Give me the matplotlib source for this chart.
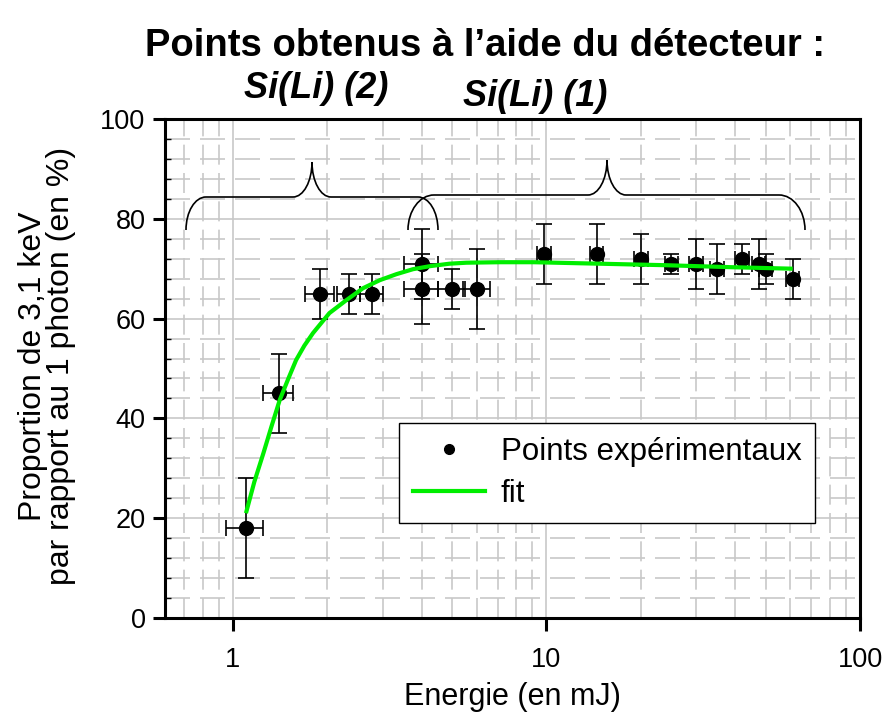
import matplotlib
matplotlib.use("Agg")
import matplotlib.pyplot as plt
from matplotlib.path import Path
from matplotlib.patches import PathPatch
from matplotlib.lines import Line2D
from matplotlib.ticker import FixedLocator, NullFormatter

plt.rcParams['font.family'] = ['Liberation Sans', 'DejaVu Sans']

# Measured points: energy (mJ), proportion (%), and their uncertainties
energy = [1.1, 1.4, 1.9, 2.35, 2.77, 4.0, 4.0, 5.0, 6.0, 9.8, 14.5,
          20, 25, 30, 35, 42, 47.5, 50, 61]
proportion = [18, 45, 65, 65, 65, 71, 66, 66, 66, 73, 73,
              72, 71, 71, 70, 72, 71, 70, 68]
proportion_err = [10, 8, 5, 4, 4, 7, 7, 4, 8, 6, 6,
                  5, 2, 5, 5, 3, 5, 3, 4]
energy_err = [0.15, 0.15, 0.2, 0.2, 0.23, 0.5, 0.5, 0.5, 0.6, 0.5, 0.7,
              1.0, 1.2, 1.5, 1.7, 2.1, 2.4, 2.5, 3.0]

# Fitted curve
fit_energy = [1.1, 1.17, 1.25, 1.33, 1.41, 1.5, 1.59, 1.69, 1.8, 2.03, 2.3,
              2.6, 2.94, 3.32, 3.75, 4.24, 4.9, 5.55, 7.1, 9.1, 14.8,
              24, 39, 61]
fit_proportion = [21.0, 27.3, 33.0, 38.6, 43.7, 47.9, 51.7, 54.6, 57.1,
                  61.1, 63.7, 66.1, 67.7, 68.9, 69.9, 70.5, 71.0, 71.2,
                  71.3, 71.3, 71.0, 70.7, 70.3, 70.0]

x_ticks = [1, 10, 100]
x_ticklabels = ["1", "10", "100"]
y_ticks = [0, 20, 40, 60, 80, 100]

title = "Points obtenus à l\u2019aide du détecteur :"
group_labels = ["Si(Li) (2)", "Si(Li) (1)"]
legend_labels = ["Points expérimentaux", "fit"]

W, H = 884, 726
fig = plt.figure(figsize=(W / 100, H / 100), dpi=100)
ax_l, ax_r, ax_t, ax_b = 165, 860, 119, 618
ax = fig.add_axes([ax_l / W, 1 - ax_b / H, (ax_r - ax_l) / W, (ax_b - ax_t) / H])

ax.set_xscale('log')
ax.set_xlim(0.607, 100)
ax.set_ylim(0, 100)

fit_col = '#00ee00'
grid_col = '#c8c8c8'
# major grid: solid
for xv in [1, 10]:
    ax.axvline(xv, color=grid_col, lw=1.2, zorder=0)
for yv in y_ticks:
    ax.axhline(yv, color=grid_col, lw=1.2, zorder=0)
# minor grid: dashed
minor_x = [0.7, 0.8, 0.9] + [m for m in range(2, 10)] + [m * 10 for m in range(2, 10)]
for xv in minor_x:
    ax.axvline(xv, color=grid_col, lw=1.2, ls=(0, (12, 5)), zorder=0)
for yv in range(0, 101, 4):
    if yv % 20:
        ax.axhline(yv, color=grid_col, lw=1.2, ls=(0, (15, 6)), zorder=0)

# experimental points with error bars
ax.errorbar(energy, proportion, yerr=proportion_err, xerr=energy_err,
            fmt='o', color='black', ms=10, elinewidth=1.2, capsize=5.8,
            capthick=1.2, zorder=3)
ax.plot(fit_energy, fit_proportion, color=fit_col, lw=3, zorder=4,
        solid_capstyle='butt')

# axes styling
for s in ax.spines.values():
    s.set_linewidth(2.2)
ax.xaxis.set_major_locator(FixedLocator(x_ticks))
ax.set_xticklabels(x_ticklabels)
ax.xaxis.set_minor_locator(FixedLocator([]))
ax.xaxis.set_minor_formatter(NullFormatter())
ax.yaxis.set_major_locator(FixedLocator(y_ticks))
ax.yaxis.set_minor_locator(FixedLocator([v for v in range(0, 101, 4) if v % 20]))
ax.tick_params(which='major', direction='out', length=9, width=2.2,
               labelsize=19.5, pad=5, top=False, right=False)
ax.tick_params(axis='x', which='major', pad=12)
ax.tick_params(axis='y', which='minor', direction='in', length=4, width=1)

ax.set_xlabel("Energie (en mJ)", fontsize=22, labelpad=6)
fig.text(47 / W, 1 - 366 / H, "Proportion de 3,1 keV\npar rapport au 1 photon (en %)",
         rotation=90, ha='center', va='center', fontsize=23, linespacing=0.95,
         multialignment='center')

fig.text(485 / W, 1 - 46 / H, title, ha='center', va='center',
         fontsize=27.5, fontweight='bold')
fig.text(316 / W, 1 - 88 / H, group_labels[0], ha='center', va='center',
         fontsize=26, fontweight='bold', style='italic')
fig.text(535 / W, 1 - 97 / H, group_labels[1], ha='center', va='center',
         fontsize=26, fontweight='bold', style='italic')

# curly braces over the two detector groups (axes-fraction coordinates)
axw, axh = ax_r - ax_l, ax_b - ax_t


def brace(x0_px, x1_px, xp_px, y_end_px, y_h_px, y_peak_px, r_end=22, r_mid=19):
    fx = lambda px: (px - ax_l) / axw
    fy = lambda py: (ax_b - py) / axh
    k = 0.5523
    ye, yh, yp = fy(y_end_px), fy(y_h_px), fy(y_peak_px)
    dy_end = yh - ye
    re, rm = r_end / axw, r_mid / axw
    x0, x1, xp = fx(x0_px), fx(x1_px), fx(xp_px)
    dy_mid = yp - yh
    verts = [
        (x0, ye),
        (x0, ye + k * dy_end), (x0 + re * (1 - k), yh), (x0 + re, yh),
        (xp - rm, yh),
        (xp - rm * (1 - k), yh), (xp, yh + dy_mid * (1 - k)), (xp, yp),
        (xp, yh + dy_mid * (1 - k)), (xp + rm * (1 - k), yh), (xp + rm, yh),
        (x1 - re, yh),
        (x1 - re * (1 - k), yh), (x1, ye + k * dy_end), (x1, ye),
    ]
    codes = [Path.MOVETO,
             Path.CURVE4, Path.CURVE4, Path.CURVE4,
             Path.LINETO,
             Path.CURVE4, Path.CURVE4, Path.CURVE4,
             Path.CURVE4, Path.CURVE4, Path.CURVE4,
             Path.LINETO,
             Path.CURVE4, Path.CURVE4, Path.CURVE4]
    ax.add_patch(PathPatch(Path(verts, codes), transform=ax.transAxes,
                           fill=False, lw=1.2, color='black', zorder=2,
                           clip_on=False))


brace(186, 438, 312, 230, 197, 162, r_end=20, r_mid=19)
brace(408, 805, 607, 230, 195, 160, r_end=26, r_mid=19)

handles = [Line2D([], [], ls='none', marker='o', color='black', ms=7),
           Line2D([], [], color=fit_col, lw=3)]
leg = ax.legend(handles, legend_labels, loc='upper left',
                bbox_to_anchor=((399 - ax_l) / axw, (ax_b - 423) / axh),
                fontsize=22.5, frameon=True, fancybox=False, edgecolor='black',
                framealpha=1, borderpad=0.45, handlelength=2.3,
                handletextpad=0.5, labelspacing=0.38, borderaxespad=0)
leg.get_frame().set_linewidth(1.0)

fig.savefig("out.png", dpi=100)
